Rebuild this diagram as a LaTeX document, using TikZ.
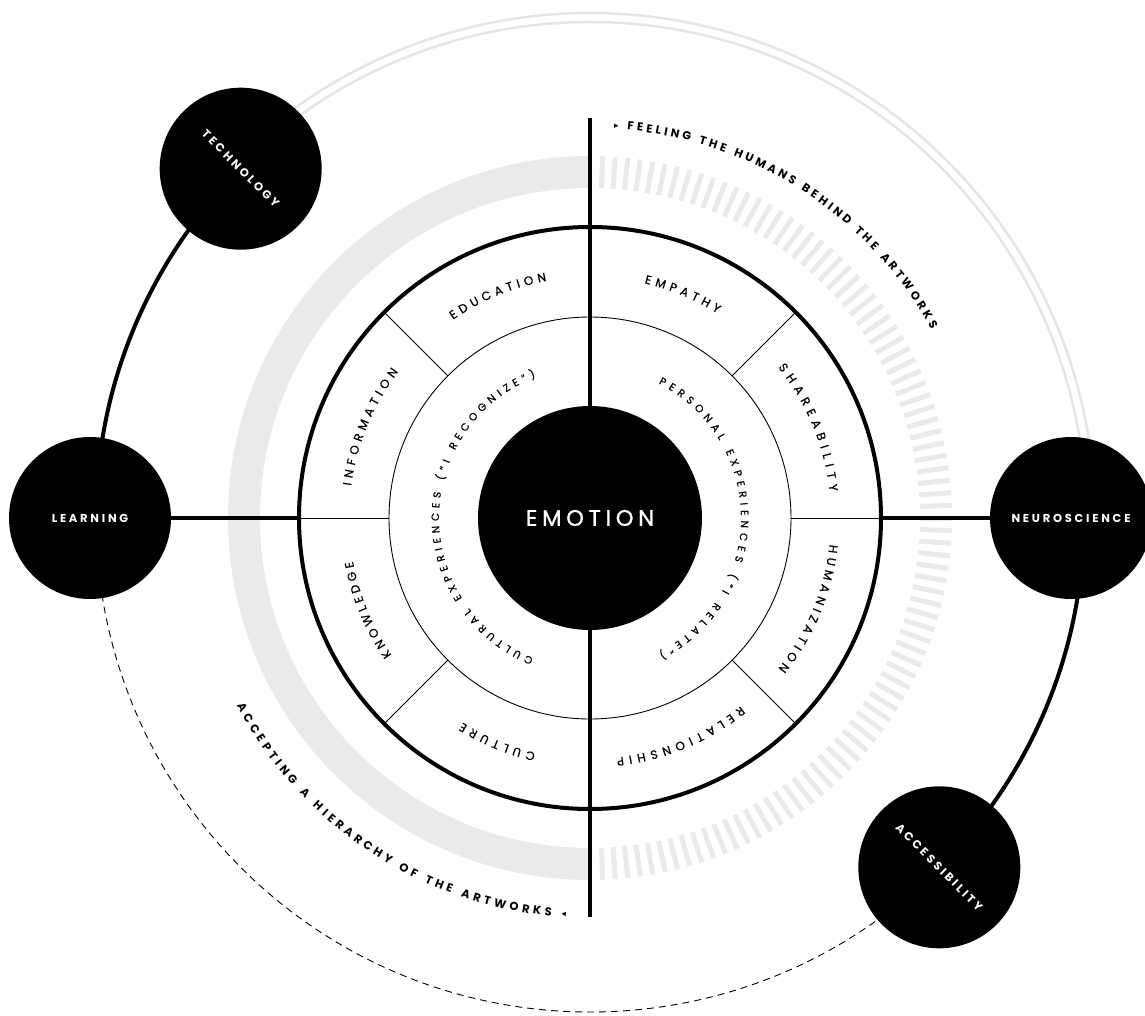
\documentclass[tikz,border=0pt]{standalone}
\usepackage{fontspec}
\setmainfont{Poppins}
\newfontfamily\symfont{DejaVu Sans}
\usetikzlibrary{decorations.text,backgrounds}

\definecolor{bandgray}{RGB}{234,234,234}
\definecolor{orbitgray}{RGB}{229,229,229}

\newcommand{\hubfont}{\bfseries\fontsize{11.5}{13}\selectfont\addfontfeature{LetterSpace=24}}
\newcommand{\corefont}{\fontsize{22.5}{26}\selectfont\addfontfeature{LetterSpace=21,FakeBold=1.2}}
\newcommand{\ringfont}{\fontsize{12}{14}\selectfont\addfontfeature{FakeBold=0.6}}
\newcommand{\innerfont}{\fontsize{10.5}{12}\selectfont\addfontfeature{FakeBold=0.5}}
\newcommand{\pathfont}{\bfseries\fontsize{11.5}{13}\selectfont}
\newcommand{\tipfont}{\symfont\fontsize{9}{10}\selectfont}

% text bent along an arc round the centre: radius, from, to, font, text
\newcommand{\ringtext}[5]{%
  \path[decorate, decoration={text along path, text align={fit to path}, text={|#4|#5}}]
    (#2:#1) arc[start angle=#2, end angle=#3, radius=#1pt];}

\begin{document}
\begin{tikzpicture}[x=1pt, y=1pt]
\tikzstyle{hub}=[circle, fill=black, minimum size=162pt, inner sep=0pt, text=white, font=\hubfont]
\tikzstyle{core}=[circle, fill=black, minimum size=224pt, inner sep=0pt, text=white, font=\corefont]
\tikzstyle{heavy}=[line width=4pt]
\tikzstyle{fine}=[line width=0.9pt]
\tikzstyle{orbit}=[orbitgray, line width=2.5pt]

\useasboundingbox (-590,-497) rectangle (555,518);

\node[core] (emotion) at (0,0) {EMOTION};
\node[hub] (learning) at (180:500) {LEARNING};
\node[hub, rotate=-45] (technology) at (135:494) {TECHNOLOGY};
\node[hub] (neuroscience) at (0:481) {NEUROSCIENCE};
\node[hub, rotate=-45] (accessibility) at (-45:494) {ACCESSIBILITY};

\coordinate (ringW) at (180:291);
\coordinate (ringE) at (0:291);
\coordinate (axisN) at (0,400);
\coordinate (axisS) at (0,-399);

\begin{scope}[on background layer]
  % grey bands
  \draw[bandgray, line width=32pt] (90:346) arc[start angle=90, end angle=270, radius=346pt];
  \foreach \a in {-88,-86,...,88}
    \draw[bandgray, line width=5pt] (\a:330) -- (\a:362);
  \draw[orbit] (135:496) arc[start angle=135, end angle=0, radius=496pt];
  \draw[orbit] (135:505) arc[start angle=135, end angle=0, radius=505pt];
  % rings
  \draw[fine] (emotion.center) circle[radius=201pt];
  \draw[heavy] (emotion.center) circle[radius=291pt];
  \foreach \a in {0,45,...,315}
    \draw[fine] (\a:201) -- (\a:291);
  \draw[heavy] (axisN) -- (axisS);
  % links between the hubs
  \draw[heavy] (learning) -- (ringW);
  \draw[heavy] (ringE) -- (neuroscience);
  \draw[heavy] (technology.center) arc[start angle=135, end angle=180, radius=494pt];
  \draw[heavy] (accessibility.center) arc[start angle=-45, end angle=0, radius=494pt];
  \draw[fine, dash pattern=on 7pt off 5pt] (accessibility.center) arc[start angle=-45, end angle=-180, radius=494pt];
\end{scope}

% ring labels
\ringtext{241}{124.65}{100.35}{\ringfont}{EDUCATION}
\ringtext{241}{172.35}{142.65}{\ringfont}{INFORMATION}
\ringtext{241}{-145.35}{-169.65}{\ringfont}{KNOWLEDGE}
\ringtext{241}{-103.05}{-121.95}{\ringfont}{CULTURE}
\ringtext{241}{-51.3}{-83.7}{\ringfont}{RELATIONSHIP}
\ringtext{241}{-6.3}{-38.7}{\ringfont}{HUMANIZATION}
\ringtext{241}{38.7}{6.3}{\ringfont}{SHAREABILITY}
\ringtext{241}{76.95}{58.05}{\ringfont}{EMPATHY}
\ringtext{151}{248}{111}{\innerfont}{CULTURAL EXPERIENCES (“I RECOGNIZE”)}
\ringtext{151}{63}{-63}{\innerfont}{PERSONAL EXPERIENCES (“I RELATE”)}
% outer captions
\ringtext{390}{86.5}{29}{\tipfont}{▸|\pathfont| FEELING THE HUMANS BEHIND THE ARTWORKS}
\ringtext{400}{208}{266.5}{\pathfont}{ACCEPTING A HIERARCHY OF THE ARTWORKS |\tipfont|◂}
\end{tikzpicture}
\end{document}
